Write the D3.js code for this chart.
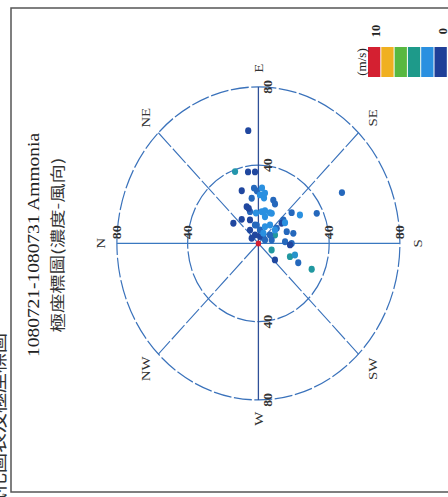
<!DOCTYPE html>
<html><head><meta charset="utf-8">
<script src="https://cdn.jsdelivr.net/npm/d3@7"></script>
<style>body{margin:0;background:#fff;overflow:hidden}</style></head>
<body><svg id="c" width="448" height="497"></svg>
<script>
// wind direction (deg, clockwise from N), concentration, wind speed (m/s)
const windDir = [84.3,70.2,80.9,87.0,70.7,85.0,88.3,151.2,80.7,92.1,97.8,110.8,115.0,70.6,73.7,96.6,85.0,52.5,36.0,68.4,78.4,105.3,97.5,65.9,128.8,116.1,140.1,148.3,155.0,139.6,142.0,143.2,159.5,165.4,155.4,166.9,176.8,180.0,204.3,182.5,222.1,200.8,196.0,203.7,203.7,73.0,102.6,112.6,55.2,34.5,104.7,154.8,118.3,146.8,143.9,113.6,124.9,84.2,144.9,94.1,98.2,0];
const concentration = [57.9,39.0,37.0,36.6,28.5,28.4,26.8,53.9,23.4,24.8,23.4,23.7,22.2,19.9,16.9,16.3,15.6,15.5,17.5,12.9,9.6,14.1,6.9,4.7,4.4,17.1,24.5,27.6,36.4,18.5,16.7,12.9,17.1,20.4,10.3,7.7,15.1,18.8,8.2,17.9,12.6,19.1,21.5,24.6,32.9,18.7,17.1,17.0,8.3,4.6,3.6,4.1,5.9,7.8,11.6,9.3,11.5,9.4,18.4,28.4,26.0,0];
const windSpeed = [0.2,3.2,0.2,0.2,0.2,1.0,1.0,1.0,1.0,2.0,2.0,1.0,1.0,0.2,1.0,2.0,2.0,0.2,0.2,0.2,1.0,2.0,1.0,0.2,1.0,2.0,1.0,2.0,1.0,1.0,0.2,1.0,1.0,1.0,3.5,1.0,1.0,1.0,3.5,0.2,0.2,3.5,2.5,1.0,3.5,0.2,2.0,2.0,0.2,0.2,0.2,1.0,2.0,1.0,2.0,2.0,2.0,1.0,2.0,2.0,2.0,10];
const radialTicks = [40, 80];
const compass = ["N","NE","E","SE","S","SW","W","NW"];
const legendSpeeds = [10, 8, 6, 4, 2, 0];
const legendColors = ["#d42031","#f0b020","#58b840","#1e9a8a","#2a90e0","#1f3f98"];
const titleText = "1080721-1080731 Ammonia";
const subtitleText = "極座標圖(濃度-風向)";
const pageText = "風花圖表及極座標圖．";

const svg = d3.select("#c");
const serif = "'Liberation Serif','DejaVu Serif',serif";
const cjk = "'Noto Sans CJK TC','Noto Sans CJK SC',sans-serif";

// page frame
svg.append("rect").attr("x",11).attr("y",8).attr("width",460).attr("height",484)
  .attr("fill","none").attr("stroke","#555").attr("stroke-width",1.5);
svg.append("text").attr("transform","translate(5,313) rotate(-90)")
  .attr("text-anchor","end").attr("font-family",cjk).attr("font-size",20)
  .attr("fill","#333").text(pageText);

// titles
svg.append("text").attr("transform","translate(39,245) rotate(-90)")
  .attr("text-anchor","middle").attr("font-family",serif).attr("font-size",17)
  .attr("textLength",224).attr("lengthAdjust","spacingAndGlyphs")
  .attr("fill","#222").text(titleText);
svg.append("text").attr("transform","translate(63,245) rotate(-90)")
  .attr("text-anchor","middle").attr("font-family",cjk).attr("font-size",14.5)
  .attr("textLength",175).attr("lengthAdjust","spacingAndGlyphs")
  .attr("fill","#333").text(subtitleText);

// polar chart (rotated, stretched like the scan)
const cx = 258.4, cy = 243.4, R = 141.5, stretch = 1.106;
const r = d3.scaleLinear().domain([0, 80]).range([0, R]);
const color = d3.scaleLinear().domain(legendSpeeds.slice().reverse()).range(legendColors.slice().reverse()).clamp(true);
const g = svg.append("g").attr("transform",`translate(${cx},${cy}) scale(1,${stretch}) rotate(-90)`);
const lineCol = "#3a72bb";

g.selectAll("circle.grid").data(radialTicks).join("circle").attr("class","grid")
  .attr("r", d => r(d)).attr("fill","none").attr("stroke",lineCol).attr("stroke-width",1.2)
  .attr("stroke-dasharray","18,2.5");

const rad = d => d * Math.PI / 180;
const px = (a, v) => Math.sin(rad(a)) * v;
const py = (a, v) => -Math.cos(rad(a)) * v;

// diagonal lines (dashed)
[45, 135].forEach(a => {
  g.append("line").attr("x1",px(a,R)).attr("y1",py(a,R)).attr("x2",px(a+180,R)).attr("y2",py(a+180,R))
    .attr("stroke",lineCol).attr("stroke-width",1.1).attr("stroke-dasharray","18,2.5");
});
// main axes (solid)
[0, 90].forEach(a => {
  g.append("line").attr("x1",px(a,R)).attr("y1",py(a,R)).attr("x2",px(a+180,R)).attr("y2",py(a+180,R))
    .attr("stroke", a === 90 ? "#2f4f98" : "#3a78c0").attr("stroke-width",1.3);
});

// radial tick labels
[0, 90, 180, 270].forEach(a => {
  radialTicks.forEach(t => {
    const vertical = (a === 0 || a === 180);
    const x = px(a, r(t)) + (vertical ? 10 : 0);
    const y = py(a, r(t)) + (vertical ? 0 : 9.5);
    g.append("text").attr("x",x).attr("y",y).attr("text-anchor","middle")
      .attr("dominant-baseline","central").attr("font-family",serif).attr("font-size",12.5)
      .attr("font-weight","bold").attr("fill","#333").text(t);
  });
});

// compass labels
compass.forEach((c, i) => {
  const a = i * 45;
  const d = R + (i % 2 ? 19 : 17);
  g.append("text").attr("x",px(a,d)).attr("y",py(a,d)).attr("text-anchor","middle")
    .attr("dominant-baseline","central").attr("font-family",serif).attr("font-size",13.5)
    .attr("fill","#333").text(c);
});

// points
const pts = windDir.map((d, i) => ({dir: d, c: concentration[i], ws: windSpeed[i]}));
g.selectAll("circle.pt").data(pts).join("circle").attr("class","pt")
  .attr("cx", d => px(d.dir, r(d.c))).attr("cy", d => py(d.dir, r(d.c)))
  .attr("r", d => d.ws >= 9 ? 2.7 : 3.1)
  .attr("fill", d => color(d.ws));

// legend
const lx = 368, ly = 47, step = 13.3;
legendSpeeds.forEach((s, i) => {
  svg.append("rect").attr("x", lx + i*step).attr("y", ly).attr("width", 12.3).attr("height", 30)
    .attr("fill", color(s));
});
svg.append("text").attr("transform",`translate(366,${ly+15}) rotate(-90)`).attr("text-anchor","middle")
  .attr("font-family",serif).attr("font-size",13).attr("fill","#222").text("(m/s)");
[[10, 0], [0, 5]].forEach(([s, idx]) => {
  svg.append("text").attr("transform",`translate(${lx + idx*step + 12},31) rotate(-90)`)
    .attr("text-anchor","middle").attr("font-family",serif).attr("font-size",12.5)
    .attr("font-weight","bold").attr("fill","#222").text(s);
});
</script>
</body></html>
